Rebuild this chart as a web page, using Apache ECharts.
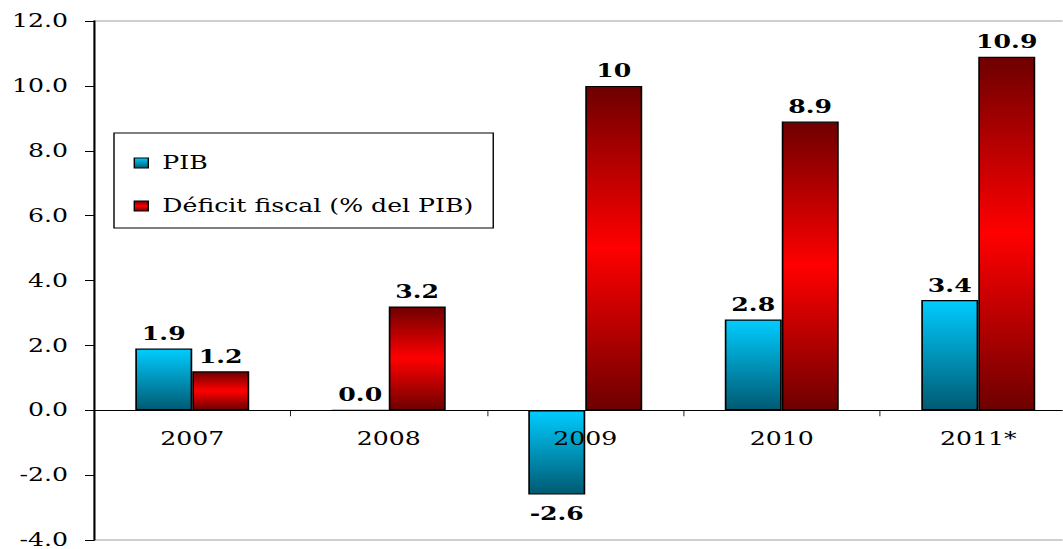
<!DOCTYPE html>
<html>
<head>
<meta charset="utf-8">
<script src="https://cdn.jsdelivr.net/npm/echarts@6/dist/echarts.min.js"></script>
<style>
  html, body { margin: 0; padding: 0; background: #fff; }
  #frame { width: 1063px; height: 549px; overflow: hidden; }
  /* the reference image is stretched horizontally, so the chart is drawn narrow and widened */
  #chart { width: 759.3px; height: 549px; transform: scaleX(1.4); transform-origin: 0 0; }
</style>
</head>
<body>
<div id="frame"><div id="chart"></div></div>
<script>
// ── 数据 ──
const years = ['2007', '2008', '2009', '2010', '2011*']
const pib = [1.9, 0.0, -2.6, 2.8, 3.4]
const deficit = [1.2, 3.2, 10, 8.9, 10.9]
const yTicks = { min: -4, max: 12, interval: 2 }

const SX = 1.4  // horizontal stretch
const FONT = 'DejaVu Serif, serif'
const GRID_TOP = 21, GRID_BOTTOM = 9, H = 549
const plotH = H - GRID_TOP - GRID_BOTTOM
// x axis sits on y = 0 (moved up from the bottom edge of the grid)
const zeroLift = plotH * (0 - yTicks.min) / (yTicks.max - yTicks.min)

const chart = echarts.init(document.getElementById('chart'), undefined, { renderer: 'svg' })

const pibFill = new echarts.graphic.LinearGradient(0, 0, 0, 1, [
  { offset: 0, color: '#00ccff' }, { offset: 1, color: '#005a72' }])
const defFill = new echarts.graphic.LinearGradient(0, 0, 0, 1, [
  { offset: 0, color: '#6e0000' }, { offset: 0.5, color: '#ff0000' }, { offset: 1, color: '#6e0000' }])

const labelStyle = { show: true, color: '#000', fontFamily: FONT, fontWeight: 'bold', fontSize: 18, distance: 6 }

chart.setOption({
  backgroundColor: '#fff',
  animation: false,
  textStyle: { fontFamily: FONT },
  grid: {
    left: 94 / SX, top: GRID_TOP, width: 982.5 / SX, bottom: GRID_BOTTOM,
    outerBoundsMode: 'none',
    show: true, borderColor: '#a0a0a0', borderWidth: 1, backgroundColor: 'transparent',
  },
  legend: {
    orient: 'vertical', left: 114 / SX, top: 133, icon: 'rect',
    padding: [20, 14, 12, 14], itemGap: 23, itemWidth: 14 / SX, itemHeight: 10,
    borderColor: '#000', borderWidth: 1, backgroundColor: '#fff',
    textStyle: { fontFamily: FONT, fontSize: 18, lineHeight: 20, color: '#000', padding: [0, 0, 0, 5] },
    itemStyle: { borderColor: '#000', borderWidth: 1 },
    data: ['PIB', 'Déficit fiscal (% del PIB)'],
  },
  xAxis: {
    type: 'category', data: years, z: 5, offset: -zeroLift,
    axisLine: { onZero: false, lineStyle: { color: '#000', width: 1 } },
    axisTick: { show: true, length: 6, lineStyle: { color: '#000', width: 1 / SX } },
    axisLabel: { color: '#000', fontFamily: FONT, fontSize: 18, margin: 20 },
  },
  yAxis: {
    type: 'value', ...yTicks,
    splitLine: { show: false },
    axisLine: { show: true, onZero: false, lineStyle: { color: '#000', width: 2 / SX } },
    axisTick: { show: true, length: 9 / SX, lineStyle: { color: '#000' } },
    axisLabel: { color: '#000', fontFamily: FONT, fontSize: 18, margin: 26 / SX, formatter: v => v.toFixed(1) },
  },
  series: [
    {
      name: 'PIB', type: 'bar', barGap: '0%', barCategoryGap: '42%',
      data: pib.map(v => (v < 0 ? { value: v, label: { position: 'bottom', distance: 10 } } : v)),
      itemStyle: { color: pibFill, borderColor: '#000', borderWidth: 1.2 },
      label: { ...labelStyle, position: 'top', formatter: p => p.value.toFixed(1) },
    },
    {
      name: 'Déficit fiscal (% del PIB)', type: 'bar', data: deficit,
      itemStyle: { color: defFill, borderColor: '#000', borderWidth: 1.2 },
      label: { ...labelStyle, position: 'top', formatter: p => String(p.value) },
    },
  ],
})
</script>
</body>
</html>
